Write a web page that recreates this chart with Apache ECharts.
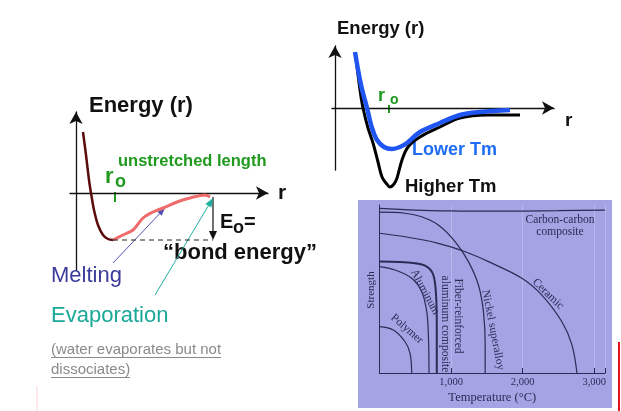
<!DOCTYPE html>
<html><head><meta charset="utf-8">
<script src="https://cdn.jsdelivr.net/npm/echarts@6/dist/echarts.min.js"></script>
<style>html,body{margin:0;padding:0;background:#fff}#c{width:621px;height:411px}</style>
</head><body><div id="c"></div>
<script>
// ---- Left panel: bond energy curve (r, Energy) ----
const leftRepulsive = [[0.35,6.1],[0.5,3.8],[0.65,1.3],[0.75,0],[0.9,-1.7],[1.1,-3.2],[1.35,-4.2],[1.6,-4.6],[1.85,-4.7]];
const leftAttractive = [[1.85,-4.7],[2.35,-4.2],[2.85,-3.7],[3.35,-2.5],[3.85,-1.9],[4.35,-1.5],[5.05,-0.9],[5.7,-0.5],[6.45,-0.2],[6.7,-0.4]];
const bondEnergyLevel = [[1.85,-4.7],[6.85,-4.7]];
const r0Left = 1.95;
const bondArrowLeft = [[6.85,-0.4],[6.85,-4.7]];
const meltingArrow = [[1.85,-7.0],[4.45,-1.5]];
const evaporationArrow = [[3.95,-10.2],[6.85,-0.5]];
// ---- Top right: lower vs higher Tm ----
const higherTm = [[1.05,5.0],[1.25,1.8],[1.4,0],[1.65,-2.0],[1.9,-3.5],[2.15,-5.4],[2.35,-6.9],[2.55,-7.5],[2.75,-7.9],[2.95,-7.6],[3.1,-7.0],[3.35,-5.2],[3.65,-3.9],[4.25,-2.9],[5.25,-1.9],[6.25,-1.0],[7.6,-0.7],[9.25,-0.7]];
const lowerTm = [[1.0,5.6],[1.3,2.3],[1.6,0],[1.85,-2.0],[2.1,-3.2],[2.45,-3.9],[2.85,-4.1],[3.25,-3.9],[3.6,-3.5],[4.25,-2.4],[5.25,-1.5],[6.25,-0.7],[7.25,-0.4],[8.75,-0.2]];
const r0Right = 2.7;
// ---- Bottom right: strength vs temperature (°C) ----
const carbonCarbon = [[0,98],[500,97],[1000,96.5],[1500,96.3],[2000,96.4],[2500,96.6],[3150,97]];
const nickelSuperalloy = [[0,95.7],[357,95.1],[590,93.0],[822,88.1],[1056,78.2],[1242,66.3],[1382,52.4],[1452,36.5],[1476,16.7],[1476,0]];
const ceramic = [[0,83.2],[357,81.1],[822,77.2],[1196,72.2],[1522,66.3],[1989,56.4],[2268,46.4],[2548,30.5],[2688,16.7],[2758,0]];
const fiberAlComposite = [[0,66.3],[497,65.3],[660,63.3],[752,58.3],[790,46.4],[800,26.8],[800,0]];
const aluminum = [[0,63.3],[217,61.3],[450,56.4],[590,48.4],[660,36.5],[683,22.6],[692,0]];
const polymer = [[0,27.6],[193,25.6],[357,18.6],[427,11.7],[450,0]];
const tempTickLabels = ['1,000','2,000','3,000'];

const SANS = 'Liberation Sans, Arial, sans-serif';
const SERIF = 'Liberation Serif, Times New Roman, serif';
const INK = '#2b2b55';

const chart = echarts.init(document.getElementById('c'));
const arrowLine = {show:true, onZero:true, symbol:['none','arrow'], symbolSize:[10,12], lineStyle:{color:'#111', width:1.3}};
const bare = {type:'value', axisTick:{show:false}, axisLabel:{show:false}, splitLine:{show:false}};
const line = (data, xi, color, width, extra) => Object.assign({type:'line', data, xAxisIndex:xi, yAxisIndex:xi, symbol:'none', smooth:0.35, clip:false, lineStyle:{color, width}, itemStyle:{color}, silent:true}, extra||{});

chart.setOption({
  animation:false,
  grid:[
    {left:70, top:112, width:198, height:158},
    {left:332, top:46, width:222, height:124},
    {left:379.5, top:205, width:225.5, height:168}
  ],
  xAxis:[
    Object.assign({}, bare, {gridIndex:0, min:-0.3, max:9.6, axisLine:arrowLine,
      name:'r', nameLocation:'end', nameGap:10, nameTextStyle:{fontFamily:SANS, fontSize:21, fontWeight:'bold', color:'#111', verticalAlign:'middle', padding:[0,0,4,0]}}),
    Object.assign({}, bare, {gridIndex:1, min:-0.15, max:10.95, axisLine:arrowLine}),
    {type:'value', gridIndex:2, min:0, max:3150, interval:1000,
      axisLine:{show:true, onZero:false, lineStyle:{color:INK, width:1}},
      axisTick:{show:true, inside:true, length:5, lineStyle:{color:INK}},
      axisLabel:{margin:4, fontFamily:SERIF, fontSize:10.5, color:INK, formatter:v => v ? tempTickLabels[v/1000-1] : ''},
      splitLine:{show:true, lineStyle:{color:'rgba(255,255,255,0.22)'}},
      name:'Temperature (°C)', nameLocation:'middle', nameGap:18, nameTextStyle:{fontFamily:SERIF, fontSize:12.5, color:INK}}
  ],
  yAxis:[
    Object.assign({}, bare, {gridIndex:0, min:-7.7, max:8.1, axisLine:arrowLine}),
    Object.assign({}, bare, {gridIndex:1, min:-6.2, max:6.2, axisLine:arrowLine}),
    Object.assign({}, bare, {gridIndex:2, min:0, max:100, axisLine:{show:true, onZero:false, lineStyle:{color:INK, width:1}}})
  ],
  series:[
    line(leftRepulsive, 0, '#5c0b0b', 2.5),
    line(leftAttractive, 0, '#f06b6b', 3),
    line(bondEnergyLevel, 0, '#222', 1, {smooth:false, lineStyle:{color:'#222', width:1, type:[5,4]}}),
    line(higherTm, 1, '#000', 3),
    line(lowerTm, 1, '#1f55f0', 4.5),
    line(carbonCarbon, 2, INK, 1.2),
    line(nickelSuperalloy, 2, INK, 1.2),
    line(ceramic, 2, INK, 1.2),
    line(fiberAlComposite, 2, INK, 2),
    line(aluminum, 2, INK, 1.2),
    line(polymer, 2, INK, 1.2)
  ]
});

const P = (g, p) => chart.convertToPixel({gridIndex:g}, p);
function arrow(g, seg, color, w, L, W) {
  const a = P(g, seg[0]), b = P(g, seg[1]);
  const dx = b[0]-a[0], dy = b[1]-a[1], len = Math.hypot(dx,dy);
  const ux = dx/len, uy = dy/len, nx = -uy, ny = ux;
  const bx = b[0]-ux*L, by = b[1]-uy*L;
  return [
    {type:'line', shape:{x1:a[0], y1:a[1], x2:b[0]-ux*L*0.7, y2:b[1]-uy*L*0.7}, style:{stroke:color, lineWidth:w}},
    {type:'polygon', shape:{points:[[b[0],b[1]],[bx+nx*W/2,by+ny*W/2],[bx-nx*W/2,by-ny*W/2]]}, style:{fill:color}}
  ];
}
function tick(g, r, e1, e2, color, w) {
  const a = P(g, [r, e1]), b = P(g, [r, e2]);
  return {type:'line', shape:{x1:a[0], y1:a[1], x2:b[0], y2:b[1]}, style:{stroke:color, lineWidth:w}};
}
function T(text, x, base, size, color, weight, font) {
  return {type:'text', x:x, y:base - 0.33*size, style:{text, fill:color, font:(weight||'normal')+' '+size+'px '+(font||SANS), align:'left', verticalAlign:'middle'}};
}
// deg > 0: counter-clockwise; deg < 0: clockwise (text running down-right)
function R(text, cx, cy, deg, size) {
  return {type:'text', x:cx, y:cy, rotation:deg*Math.PI/180, style:{text, fill:INK, font:size+'px '+SERIF, align:'center', verticalAlign:'middle'}};
}
const mctx = document.createElement('canvas').getContext('2d');
function width(text, font) { mctx.font = font; return mctx.measureText(text).width; }
const grayFont = '15px ' + SANS;

const els = [
  {type:'rect', z:-10, shape:{x:358, y:200, width:254, height:208}, style:{fill:'#a4a4e5'}},
  {type:'rect', shape:{x:618, y:342, width:2, height:69}, style:{fill:'#e5121b'}},
  {type:'rect', shape:{x:36.5, y:386, width:1, height:25}, style:{fill:'#f9d6d6'}},
  // left panel texts
  T('Energy (r)', 89, 113, 22, '#111', 'bold'),
  T('unstretched length', 118, 167, 16.5, '#1f9a1f', 'bold'),
  T('r', 105, 184, 22, '#1f9a1f', 'bold'),
  T('o', 115, 188, 18, '#1f9a1f', 'bold'),
  tick(0, r0Left, 0.1, -0.9, '#1f9a1f', 2),
  T('E', 220, 229, 20, '#111', 'bold'),
  T('o', 233, 234, 18, '#111', 'bold'),
  T('=', 244, 229, 20, '#111', 'bold'),
  T('\u201Cbond energy\u201D', 163, 260, 22, '#111', 'bold'),
  T('Melting', 51, 283, 22, '#3b3b9c'),
  T('Evaporation', 51, 323, 22, '#1aa898'),
  T('(water evaporates but not', 51, 355, 15, '#8a8a8a'),
  T('dissociates)', 51, 375, 15, '#8a8a8a'),
  {type:'line', shape:{x1:51, y1:357.5, x2:51+width('(water evaporates but not', grayFont), y2:357.5}, style:{stroke:'#8a8a8a', lineWidth:1}},
  {type:'line', shape:{x1:51, y1:377.5, x2:51+width('dissociates)', grayFont), y2:377.5}, style:{stroke:'#8a8a8a', lineWidth:1}},
  ...arrow(0, bondArrowLeft, '#111', 1.2, 9, 8),
  ...arrow(0, meltingArrow, '#5050b4', 1, 8, 6),
  ...arrow(0, evaporationArrow, '#20b0a0', 1, 9, 7),
  // top right texts
  T('Energy (r)', 337, 35, 18.5, '#111', 'bold'),
  T('r', 378, 102, 18, '#1f9a1f', 'bold'),
  T('o', 390, 105, 14, '#1f9a1f', 'bold'),
  tick(1, r0Right, 0.3, -0.5, '#1f9a1f', 2),
  T('r', 565, 127, 19, '#111', 'bold'),
  T('Lower Tm', 412, 156, 18, '#1f6cf5', 'bold'),
  T('Higher Tm', 405, 193, 18.5, '#111', 'bold'),
  // bottom right labels
  R('Carbon-carbon', 560, 220, 0, 11.5),
  R('composite', 560, 232, 0, 11.5),
  R('Ceramic', 548, 294, -44, 11.5),
  R('Nickel superalloy', 493, 330, -79, 11.5),
  R('Fiber-reinforced', 458, 316, -90, 11.5),
  R('aluminum composite', 445, 324, -90, 11.5),
  R('Aluminum', 425, 292, -62, 11.5),
  R('Polymer', 407, 329, -41, 11.5),
  R('Strength', 371, 290, 90, 11)
];
chart.setOption({graphic:{elements:els}});
</script></body></html>
